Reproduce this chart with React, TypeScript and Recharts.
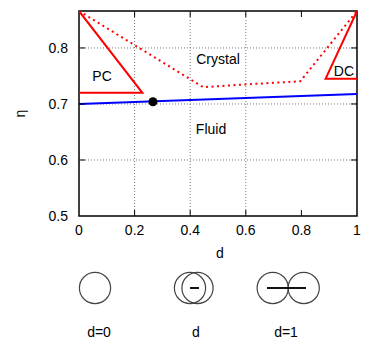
import React from "react";
import {
  LineChart,
  Line,
  XAxis,
  YAxis,
  ReferenceLine,
  ReferenceArea,
  Scatter,
} from "recharts";

// ---- data ----
const xTicks = [0, 0.2, 0.4, 0.6, 0.8, 1];
const yTicks = [0.5, 0.6, 0.7, 0.8];
const xGrid = [0.2, 0.4, 0.6];
const yGrid = [0.6, 0.7, 0.8];

const fluidD = [0, 1];
const fluidEta = [0.7, 0.718];

const pcD = [0, 0.228, 0];
const pcEta = [0.866, 0.72, 0.72];

const crystalD = [0, 0.447, 0.6, 0.796, 1];
const crystalEta = [0.866, 0.73, 0.735, 0.7405, 0.866];

const dcD = [1, 0.887, 1];
const dcEta = [0.866, 0.745, 0.745];

const pointD = [0.266];
const pointEta = [0.704];

const labelText = ["PC", "Crystal", "DC", "Fluid"];
const labelD = [0.083, 0.5, 0.953, 0.475];
const labelEta = [0.7495, 0.78, 0.758, 0.655];

const zip = (xs: number[], ys: number[]) => xs.map((d, i) => ({ d, eta: ys[i] }));

const fluidData = zip(fluidD, fluidEta);
const pcData = zip(pcD, pcEta);
const crystalData = zip(crystalD, crystalEta);
const dcData = zip(dcD, dcEta);
const pointData = zip(pointD, pointEta);
const labelData = labelText.map((t, i) => ({ t, d: labelD[i], eta: labelEta[i] }));

// ---- layout ----
const W = 380;
const H = 357;
const PL = 79;
const PR = 357;
const PT = 11;
const PB = 216;
const AXW = 30;
const AXH = 30;
const FONT = "'Liberation Sans', Arial, sans-serif";

const XTick = (props: any) => {
  const { x, payload } = props;
  const v = payload.value;
  const inner = v > 0 && v < 1;
  return (
    <g>
      {inner && <line x1={x} x2={x} y1={PB} y2={PB - 6} stroke="#000" strokeWidth={1} />}
      {inner && <line x1={x} x2={x} y1={PT} y2={PT + 6} stroke="#000" strokeWidth={1} />}
      <text x={x} y={PB + 19} textAnchor="middle" fontSize={14} fontFamily={FONT} fill="#000">
        {String(v)}
      </text>
    </g>
  );
};

const YTick = (props: any) => {
  const { y, payload } = props;
  const v = payload.value;
  const inner = v > 0.5;
  return (
    <g>
      {inner && <line x1={PL} x2={PL + 6} y1={y} y2={y} stroke="#000" strokeWidth={1} />}
      {inner && <line x1={PR} x2={PR - 6} y1={y} y2={y} stroke="#000" strokeWidth={1} />}
      <text x={68} y={y + 5} textAnchor="end" fontSize={14} fontFamily={FONT} fill="#000">
        {v.toFixed(1)}
      </text>
    </g>
  );
};

const LabelShape = (props: any) => {
  const { cx, cy, payload } = props;
  return (
    <text
      x={cx}
      y={cy}
      textAnchor="middle"
      dominantBaseline="central"
      fontSize={14}
      fontFamily={FONT}
      fill="#000"
    >
      {payload.t}
    </text>
  );
};

const Diagram = () => (
  <svg width={W} height={H} style={{ position: "absolute", left: 0, top: 0, pointerEvents: "none" }}>
    <g fill="none" stroke="#444" strokeWidth={1.2}>
      <circle cx={95} cy={288} r={15.6} />
      <circle cx={190} cy={288} r={15.6} />
      <circle cx={197.5} cy={288} r={15.6} />
      <circle cx={272.7} cy={288} r={15.6} />
      <circle cx={303.7} cy={288} r={15.6} />
    </g>
    <line x1={190} x2={199} y1={288} y2={288} stroke="#111" strokeWidth={2} />
    <line x1={267} x2={306} y1={288} y2={288} stroke="#111" strokeWidth={2} />
    <g fontSize={14} fontFamily={FONT} fill="#000" textAnchor="middle">
      <text x={99} y={337}>d=0</text>
      <text x={196} y={337}>d</text>
      <text x={286} y={337}>d=1</text>
      <text x={PL + (PR - PL) / 2 + 2} y={258}>d</text>
      <text x={20} y={(PT + PB) / 2} transform={`rotate(-90 20 ${(PT + PB) / 2})`} dominantBaseline="central">
        η
      </text>
    </g>
  </svg>
);

export default function App() {
  return (
    <div style={{ position: "absolute", left: 0, top: 0, width: W, height: H, background: "#fff" }}>
      <LineChart
        width={W}
        height={H}
        margin={{ top: PT, right: W - PR, bottom: H - PB - AXH, left: PL - AXW }}
      >
        <XAxis
          dataKey="d"
          type="number"
          domain={[0, 1]}
          ticks={xTicks}
          height={AXH}
          axisLine={false}
          tickLine={false}
          tick={<XTick />}
          interval={0}
          allowDataOverflow
        />
        <YAxis
          dataKey="eta"
          type="number"
          domain={[0.5, 0.866]}
          ticks={yTicks}
          width={AXW}
          axisLine={false}
          tickLine={false}
          tick={<YTick />}
          interval={0}
          allowDataOverflow
        />
        {xGrid.map((v) => (
          <ReferenceLine key={"gx" + v} x={v} stroke="#777" strokeDasharray="1 2" strokeWidth={1} />
        ))}
        {yGrid.map((v) => (
          <ReferenceLine key={"gy" + v} y={v} stroke="#777" strokeDasharray="1 2" strokeWidth={1} />
        ))}
        <Line
          data={crystalData}
          dataKey="eta"
          type="linear"
          stroke="#ff0000"
          strokeWidth={2}
          strokeDasharray="2 3.5"
          dot={false}
          isAnimationActive={false}
        />
        <Line
          data={pcData}
          dataKey="eta"
          type="linear"
          stroke="#ff0000"
          strokeWidth={2}
          dot={false}
          isAnimationActive={false}
        />
        <Line
          data={dcData}
          dataKey="eta"
          type="linear"
          stroke="#ff0000"
          strokeWidth={2}
          dot={false}
          isAnimationActive={false}
        />
        <Line
          data={fluidData}
          dataKey="eta"
          type="linear"
          stroke="#0000ff"
          strokeWidth={2}
          dot={false}
          isAnimationActive={false}
        />
        <Scatter data={pointData} dataKey="eta" fill="#000" shape="circle" isAnimationActive={false} />
        <Scatter data={labelData} dataKey="eta" shape={<LabelShape />} isAnimationActive={false} />
        <ReferenceArea
          x1={0}
          x2={1}
          y1={0.5}
          y2={0.866}
          fill="none"
          stroke="#000"
          strokeWidth={1.5}
          fillOpacity={0}
        />
      </LineChart>
      <Diagram />
    </div>
  );
}
